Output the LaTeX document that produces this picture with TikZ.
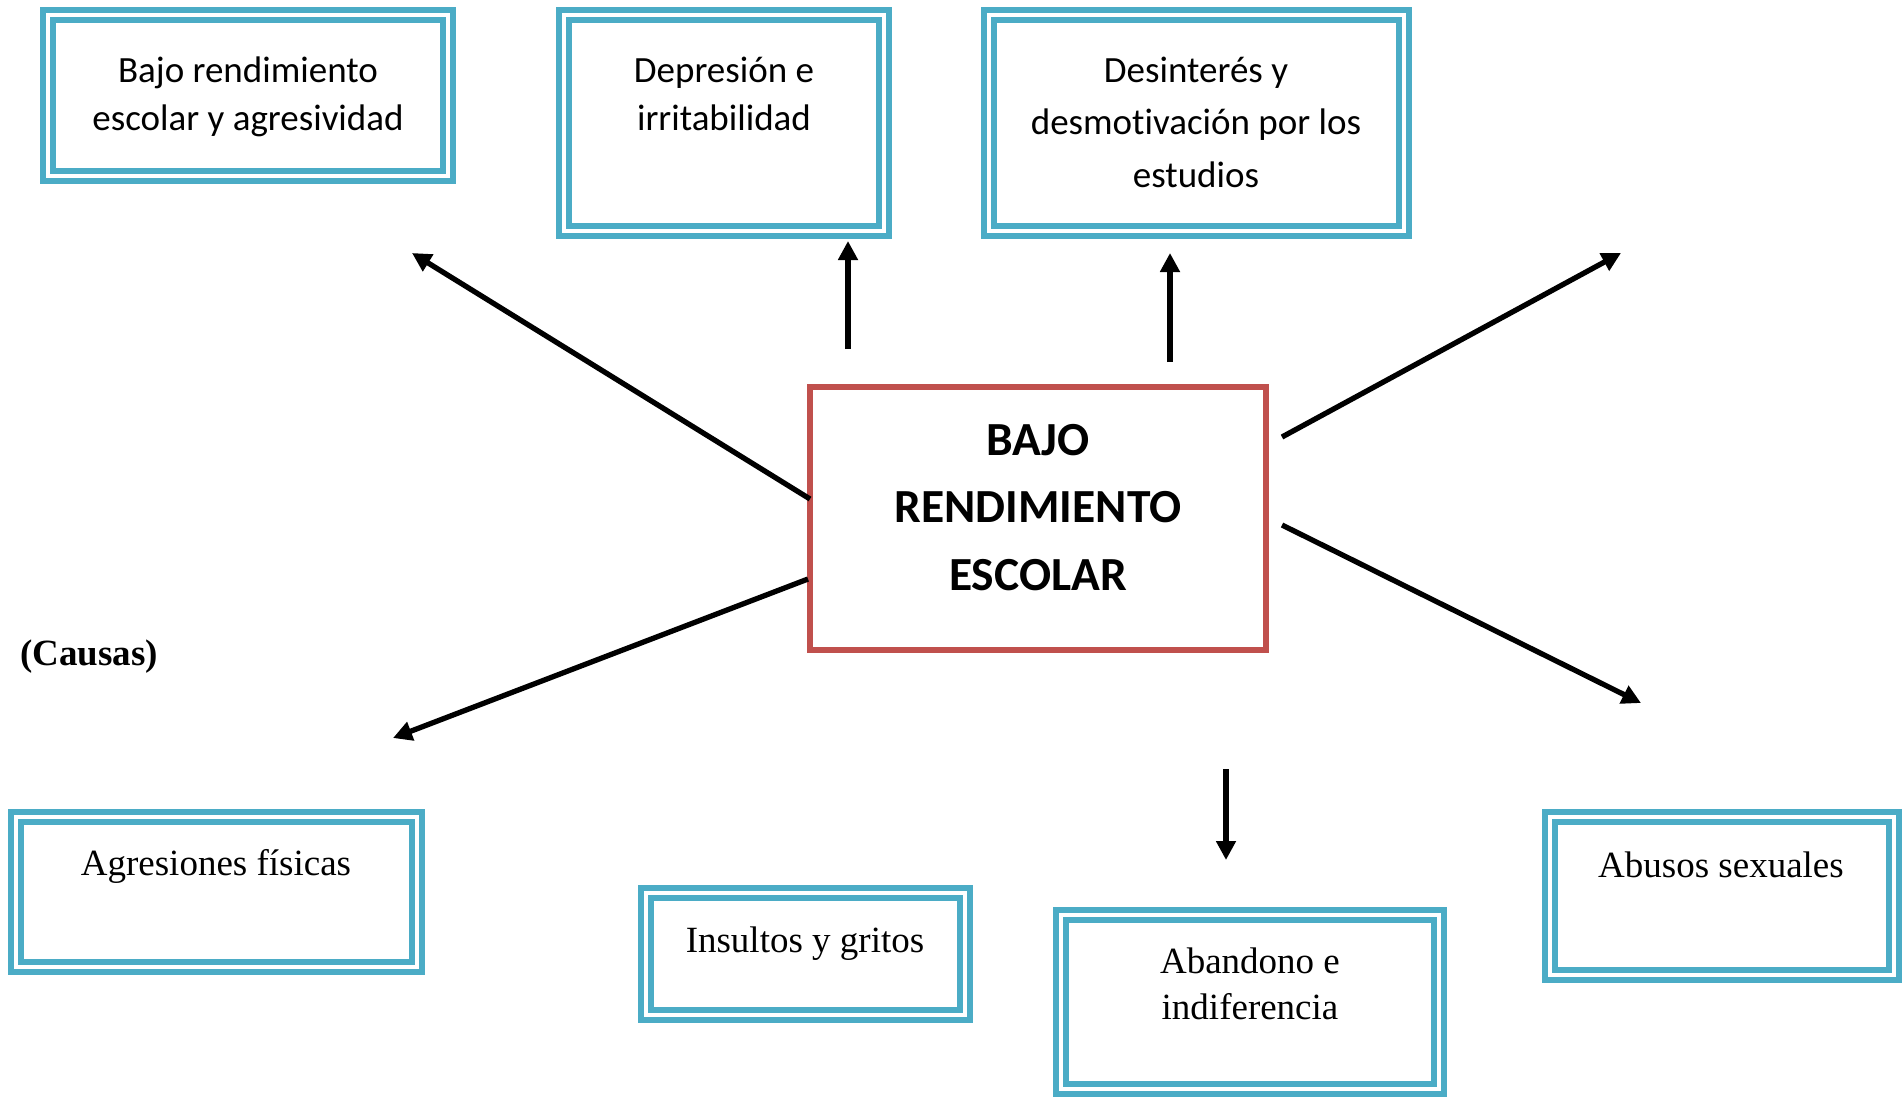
\documentclass[tikz,border=0pt]{standalone}
\usepackage{fontspec}
\setmainfont{Liberation Serif}
\newfontfamily\calfont[Ligatures=NoCommon]{Carlito}
\usetikzlibrary{arrows.meta}
\definecolor{boxblue}{HTML}{4BACC6}
\definecolor{boxred}{HTML}{C0504D}
\tikzset{
  bluebox/.style={draw=boxblue, double=white, line width=5.75pt, double distance=4.5pt,
    rectangle, inner sep=0pt, minimum width=#1},
  redbox/.style={draw=boxred, line width=6pt, rectangle, inner sep=0pt},
  caltxt/.style={font=\calfont\fontsize{37}{48}\selectfont, align=center, inner sep=0pt, anchor=base},
  serftxt/.style={font=\fontsize{37}{46}\selectfont, align=center, inner sep=0pt, anchor=base},
  arr/.style={line width=5.3pt, -{Triangle[length=19pt,width=19pt]}}
}
\begin{document}
\begin{tikzpicture}[x=1pt,y=-1pt]
\useasboundingbox[fill=white] (0,0) rectangle (1903,1098);
% boxes (path centred in the double border: outer edge minus 8)
\node[bluebox=400pt, minimum height=161pt] (b1) at (248,95.5) {};
\node[bluebox=320pt, minimum height=216pt] (b2) at (724,123) {};
\node[bluebox=415pt, minimum height=216pt] (b3) at (1196.5,123) {};
\node[redbox, minimum width=456pt, minimum height=263pt] (c) at (1038,518.5) {};
\node[bluebox=401pt, minimum height=150pt] (b4) at (216.5,892) {};
\node[bluebox=319pt, minimum height=122pt] (b5) at (805.5,954) {};
\node[bluebox=378pt, minimum height=174pt] (b6) at (1250,1002) {};
\node[bluebox=344pt, minimum height=158pt] (b7) at (1722,896) {};
% texts (anchor base = baseline of the last line)
\node[caltxt] (t1) at (248,130) {Bajo rendimiento\\escolar y agresividad};
\node[caltxt] (t2) at (724,130) {Depresión e\\irritabilidad};
\node[caltxt, font=\calfont\fontsize{37}{52.5}\selectfont] (t3) at (1196,187) {Desinterés y\\desmotivación por los\\estudios};
\node[caltxt, font=\calfont\bfseries\fontsize{47.5}{67.5}\selectfont] (tc) at (1038,590) {BAJO\\RENDIMIENTO\\ESCOLAR};
\node[serftxt] (t4) at (216,875) {Agresiones físicas};
\node[serftxt] (t5) at (805,952) {Insultos y gritos};
\node[serftxt] (t6) at (1250,1019) {Abandono e\\indiferencia};
\node[serftxt] (t7) at (1721,877) {Abusos sexuales};
\node[serftxt, anchor=base west, font=\bfseries\fontsize{37}{46}\selectfont] (causas) at (20,665) {(Causas)};
% arrow ends
\coordinate (nw0) at (810,499); \coordinate (nw1) at (412,253);
\coordinate (u10) at (848,349); \coordinate (u11) at (848,241);
\coordinate (u20) at (1170,362); \coordinate (u21) at (1170,253);
\coordinate (ne0) at (1282,437); \coordinate (ne1) at (1621,253);
\coordinate (se0) at (1282,525); \coordinate (se1) at (1641,703);
\coordinate (d0) at (1226,769); \coordinate (d1) at (1226,860);
\coordinate (sw0) at (808,579); \coordinate (sw1) at (393,738);
\draw[arr] (nw0) -- (nw1);
\draw[arr] (u10) -- (u11);
\draw[arr] (u20) -- (u21);
\draw[arr] (ne0) -- (ne1);
\draw[arr] (se0) -- (se1);
\draw[arr] (d0) -- (d1);
\draw[arr] (sw0) -- (sw1);
\end{tikzpicture}
\end{document}
